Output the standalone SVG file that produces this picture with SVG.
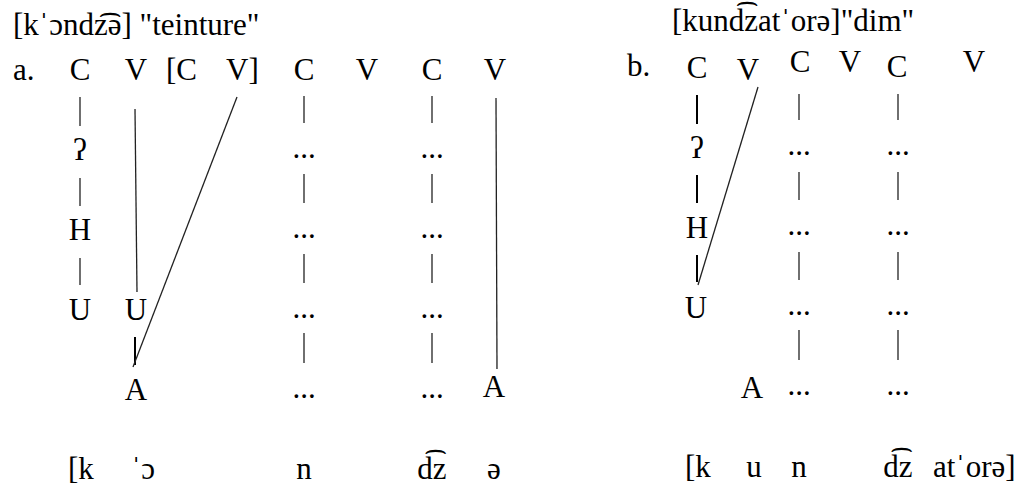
<svg xmlns="http://www.w3.org/2000/svg" width="1026" height="486" viewBox="0 0 1026 486">
<style>
text{font-family:"Liberation Serif","DejaVu Serif",serif;font-size:31px;fill:#000}
.m{text-anchor:middle}
.ln{stroke:#222;stroke-width:1.3;fill:none}
.th{stroke:#000;stroke-width:2;fill:none}
</style>
<rect width="1026" height="486" fill="#fff"/>
<g id="titles">
<text x="13" y="35">[kˈɔndz͡ə] "teinture"</text>
<text x="672" y="31">[kund͡zatˈorə]"dim"</text>
</g>
<g id="row-a">
<text x="13" y="80">a.</text>
<g id="a-C1"><text class="m" x="80" y="80">C</text></g>
<g id="a-V1"><text class="m" x="136" y="80">V</text></g>
<g id="a-C2"><text x="166" y="80">[C</text></g>
<g id="a-V2"><text x="226" y="80">V]</text></g>
<g id="a-C3"><text class="m" x="304" y="80">C</text></g>
<g id="a-V3"><text class="m" x="367" y="80">V</text></g>
<g id="a-C4"><text class="m" x="432" y="80">C</text></g>
<g id="a-V4"><text class="m" x="495" y="80">V</text></g>
<g id="a-glottal"><text class="m" x="80" y="160">ʔ</text></g>
<g id="a-H"><text class="m" x="80" y="240">H</text></g>
<g id="a-U1"><text class="m" x="80" y="320">U</text></g>
<g id="a-U2"><text class="m" x="136" y="320">U</text></g>
<g id="a-A1"><text class="m" x="136" y="400">A</text></g>
<g id="a-A2"><text class="m" x="494" y="397">A</text></g>
<g id="a-dots">
<text class="m" x="304" y="158">...</text><text class="m" x="304" y="238">...</text><text class="m" x="304" y="318">...</text><text class="m" x="304" y="398">...</text>
<text class="m" x="432" y="158">...</text><text class="m" x="432" y="238">...</text><text class="m" x="432" y="318">...</text><text class="m" x="432" y="398">...</text>
</g>
<g id="a-surface">
<text x="68" y="479">[k</text>
<text x="131" y="479">ˈɔ</text>
<text class="m" x="304" y="479">n</text>
<text class="m" x="432" y="479">d͡z</text>
<text class="m" x="494" y="479">ə</text>
</g>
</g>
<g id="row-b">
<text x="627" y="76">b.</text>
<g id="b-C1"><text class="m" x="697" y="78">C</text></g>
<g id="b-V1"><text class="m" x="748" y="80">V</text></g>
<g id="b-C2"><text class="m" x="800" y="72">C</text></g>
<g id="b-V2"><text class="m" x="850" y="72">V</text></g>
<g id="b-C3"><text class="m" x="897" y="77">C</text></g>
<g id="b-V3"><text class="m" x="974" y="72">V</text></g>
<g id="b-glottal"><text class="m" x="697" y="158">ʔ</text></g>
<g id="b-H"><text class="m" x="697" y="238">H</text></g>
<g id="b-U"><text class="m" x="696" y="318">U</text></g>
<g id="b-A"><text class="m" x="752" y="398">A</text></g>
<g id="b-dots">
<text class="m" x="799" y="155">...</text><text class="m" x="799" y="235">...</text><text class="m" x="799" y="315">...</text><text class="m" x="799" y="395">...</text>
<text class="m" x="898" y="155">...</text><text class="m" x="898" y="235">...</text><text class="m" x="898" y="315">...</text><text class="m" x="898" y="395">...</text>
</g>
<g id="b-surface">
<text x="685" y="477">[k</text>
<text class="m" x="754" y="477">u</text>
<text class="m" x="799" y="477">n</text>
<text class="m" x="898" y="477">d͡z</text>
<text x="933" y="477">atˈorə]</text>
</g>
</g>
<g id="connectors">
<line class="ln" x1="80" y1="97" x2="80" y2="126"/>
<line class="ln" x1="80" y1="178" x2="80" y2="206"/>
<line class="ln" x1="80" y1="258" x2="80" y2="285"/>
<line class="ln" x1="135" y1="109" x2="137" y2="292"/>
<line class="th" x1="135" y1="337" x2="135" y2="365"/>
<line class="ln" x1="237" y1="97" x2="133" y2="367"/>
<line class="ln" x1="304" y1="96" x2="304" y2="123"/>
<line class="ln" x1="304" y1="174" x2="304" y2="203"/>
<line class="ln" x1="304" y1="254" x2="304" y2="283"/>
<line class="ln" x1="304" y1="333" x2="304" y2="363"/>
<line class="ln" x1="432" y1="96" x2="432" y2="123"/>
<line class="ln" x1="432" y1="174" x2="432" y2="203"/>
<line class="ln" x1="432" y1="254" x2="432" y2="283"/>
<line class="ln" x1="432" y1="333" x2="432" y2="363"/>
<line class="ln" x1="496" y1="98" x2="497" y2="369"/>
<line class="th" x1="697" y1="95" x2="697" y2="124"/>
<line class="th" x1="697" y1="175" x2="697" y2="203"/>
<line class="th" x1="697" y1="255" x2="697" y2="282"/>
<line class="ln" x1="758" y1="87" x2="698" y2="285"/>
<line class="ln" x1="799" y1="94" x2="799" y2="120"/>
<line class="ln" x1="799" y1="172" x2="799" y2="200"/>
<line class="ln" x1="799" y1="252" x2="799" y2="280"/>
<line class="ln" x1="799" y1="330" x2="799" y2="360"/>
<line class="ln" x1="898" y1="94" x2="898" y2="120"/>
<line class="ln" x1="898" y1="172" x2="898" y2="200"/>
<line class="ln" x1="898" y1="252" x2="898" y2="280"/>
<line class="ln" x1="898" y1="330" x2="898" y2="360"/>
</g>
</svg>
